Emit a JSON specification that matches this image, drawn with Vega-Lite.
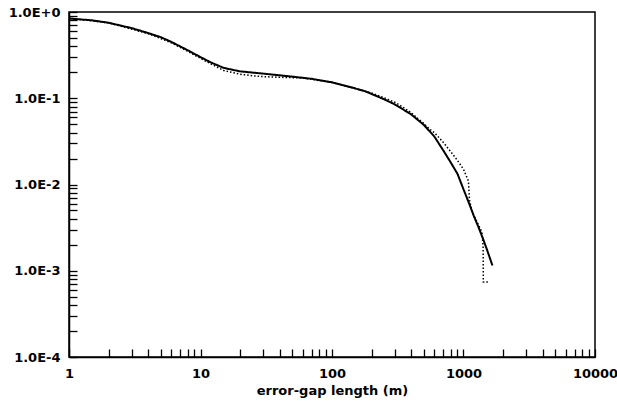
{
  "$schema": "https://vega.github.io/schema/vega-lite/v6.json",
  "width": 526,
  "height": 345,
  "autosize": {"type": "none"},
  "padding": {"left": 69, "top": 12, "right": 22, "bottom": 54},
  "background": "white",
  "config": {
    "view": {"stroke": "black", "strokeWidth": 1.5},
    "axis": {
      "domainColor": "black",
      "domainWidth": 1.5,
      "labelFont": "DejaVu Sans",
      "labelFontWeight": "bold",
      "labelFontSize": 13,
      "labelColor": "black",
      "titleFont": "DejaVu Sans",
      "titleFontWeight": "bold",
      "titleFontSize": 13,
      "titleColor": "black",
      "grid": false
    }
  },
  "data": {"values": [
      {"s": "model", "x": 1, "y": 0.84}, {"s": "model", "x": 1.5, "y": 0.80}, {"s": "model", "x": 2, "y": 0.75}, {"s": "model", "x": 3, "y": 0.65},
      {"s": "model", "x": 4, "y": 0.57}, {"s": "model", "x": 5, "y": 0.51}, {"s": "model", "x": 6, "y": 0.45}, {"s": "model", "x": 8, "y": 0.36},
      {"s": "model", "x": 10, "y": 0.30}, {"s": "model", "x": 12, "y": 0.26}, {"s": "model", "x": 15, "y": 0.225}, {"s": "model", "x": 20, "y": 0.205},
      {"s": "model", "x": 30, "y": 0.193}, {"s": "model", "x": 50, "y": 0.178}, {"s": "model", "x": 70, "y": 0.168}, {"s": "model", "x": 100, "y": 0.153},
      {"s": "model", "x": 120, "y": 0.142}, {"s": "model", "x": 150, "y": 0.13}, {"s": "model", "x": 180, "y": 0.12}, {"s": "model", "x": 250, "y": 0.097},
      {"s": "model", "x": 300, "y": 0.085}, {"s": "model", "x": 400, "y": 0.065}, {"s": "model", "x": 500, "y": 0.049}, {"s": "model", "x": 600, "y": 0.036},
      {"s": "model", "x": 700, "y": 0.025}, {"s": "model", "x": 800, "y": 0.018}, {"s": "model", "x": 900, "y": 0.0133}, {"s": "model", "x": 1000, "y": 0.0088},
      {"s": "model", "x": 1100, "y": 0.0061}, {"s": "model", "x": 1200, "y": 0.0043}, {"s": "model", "x": 1300, "y": 0.0032}, {"s": "model", "x": 1400, "y": 0.0024},
      {"s": "model", "x": 1500, "y": 0.0018}, {"s": "model", "x": 1660, "y": 0.00115},
      {"s": "observed", "x": 1, "y": 0.85}, {"s": "observed", "x": 2, "y": 0.75}, {"s": "observed", "x": 4, "y": 0.56}, {"s": "observed", "x": 6, "y": 0.44},
      {"s": "observed", "x": 8, "y": 0.35}, {"s": "observed", "x": 10, "y": 0.29}, {"s": "observed", "x": 12, "y": 0.25}, {"s": "observed", "x": 15, "y": 0.21},
      {"s": "observed", "x": 20, "y": 0.19}, {"s": "observed", "x": 25, "y": 0.182}, {"s": "observed", "x": 30, "y": 0.178}, {"s": "observed", "x": 40, "y": 0.175},
      {"s": "observed", "x": 60, "y": 0.172}, {"s": "observed", "x": 100, "y": 0.152}, {"s": "observed", "x": 150, "y": 0.13}, {"s": "observed", "x": 200, "y": 0.115},
      {"s": "observed", "x": 250, "y": 0.101}, {"s": "observed", "x": 300, "y": 0.09}, {"s": "observed", "x": 350, "y": 0.078}, {"s": "observed", "x": 400, "y": 0.068},
      {"s": "observed", "x": 450, "y": 0.058}, {"s": "observed", "x": 500, "y": 0.051}, {"s": "observed", "x": 550, "y": 0.044}, {"s": "observed", "x": 600, "y": 0.040},
      {"s": "observed", "x": 700, "y": 0.031}, {"s": "observed", "x": 800, "y": 0.024}, {"s": "observed", "x": 900, "y": 0.019}, {"s": "observed", "x": 1000, "y": 0.015},
      {"s": "observed", "x": 1090, "y": 0.011}, {"s": "observed", "x": 1110, "y": 0.0066}, {"s": "observed", "x": 1170, "y": 0.0047}, {"s": "observed", "x": 1300, "y": 0.0034},
      {"s": "observed", "x": 1380, "y": 0.0028}, {"s": "observed", "x": 1410, "y": 0.0019}, {"s": "observed", "x": 1415, "y": 0.00074}, {"s": "observed", "x": 1580, "y": 0.00074}
  ]},
  "mark": {"type": "line", "color": "black"},
  "encoding": {
    "x": {
      "field": "x", "type": "quantitative",
      "scale": {"type": "log", "domain": [1, 10000], "nice": false},
      "axis": {
        "title": "error-gap length (m)",
        "titlePadding": 4,
        "values": [1,2,3,4,5,6,7,8,9,10,20,30,40,50,60,70,80,90,100,200,300,400,500,600,700,800,900,1000,2000,3000,4000,5000,6000,7000,8000,9000,10000],
        "tickSize": -8,
        "tickColor": "black",
        "tickWidth": 1.3,
        "labelPadding": 18,
        "encode": {"ticks": {"update": {"y2": {"signal": "abs(log(datum.value)/LN10 - round(log(datum.value)/LN10)) < 0.001 ? -16 : -8"}}}},
        "labelExpr": "abs(log(datum.value)/LN10 - round(log(datum.value)/LN10)) < 0.001 ? format(datum.value, 'd') : ''",
        "labelFlush": false,
        "labelOverlap": false
      }
    },
    "y": {
      "field": "y", "type": "quantitative",
      "scale": {"type": "log", "domain": [0.0001, 1], "nice": false},
      "axis": {
        "title": null,
        "values": [0.0001,0.0002,0.0003,0.0004,0.0005,0.0006,0.0007,0.0008,0.0009,0.001,0.002,0.003,0.004,0.005,0.006,0.007,0.008,0.009,0.01,0.02,0.03,0.04,0.05,0.06,0.07,0.08,0.09,0.1,0.2,0.3,0.4,0.5,0.6,0.7,0.8,0.9,1],
        "tickSize": -8,
        "tickColor": "black",
        "tickWidth": 1.3,
        "labelPadding": 17,
        "encode": {"ticks": {"update": {"x2": {"signal": "abs(log(datum.value)/LN10 - round(log(datum.value)/LN10)) < 0.001 ? 16 : 8"}}}},
        "labelExpr": "abs(log(datum.value)/LN10 - round(log(datum.value)/LN10)) < 0.001 ? '1.0E' + (round(log(datum.value)/LN10) >= 0 ? '+' : '-') + abs(round(log(datum.value)/LN10)) : ''",
        "labelFlush": false,
        "labelOverlap": false
      }
    },
    "strokeDash": {"field": "s", "type": "nominal", "scale": {"domain": ["model", "observed"], "range": [[1, 0], [1.5, 2]]}, "legend": null},
    "strokeWidth": {"field": "s", "type": "nominal", "scale": {"domain": ["model", "observed"], "range": [2, 1.5]}, "legend": null}
  }
}
